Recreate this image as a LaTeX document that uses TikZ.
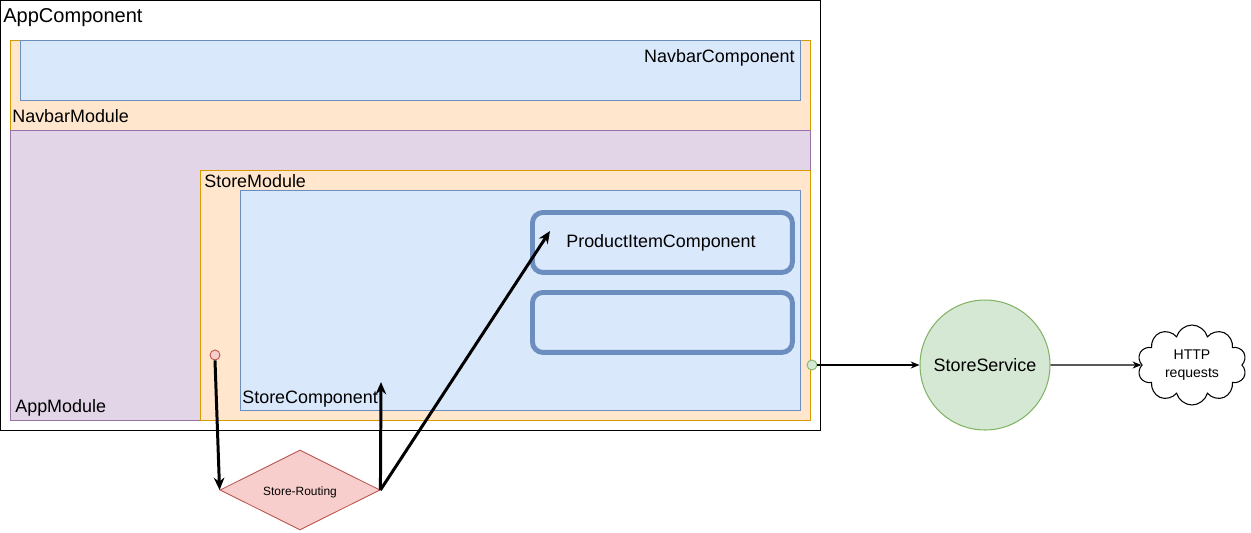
\documentclass[tikz,border=0pt]{standalone}
\usepackage{fontspec}
\setmainfont{Liberation Sans}
\usetikzlibrary{arrows.meta,shapes.geometric,shapes.symbols,positioning}

\definecolor{bluefill}{HTML}{DAE8FC}
\definecolor{bluedraw}{HTML}{6C8EBF}
\definecolor{orangefill}{HTML}{FFE6CC}
\definecolor{orangedraw}{HTML}{D79B00}
\definecolor{purplefill}{HTML}{E1D5E7}
\definecolor{purpledraw}{HTML}{9673A6}
\definecolor{greenfill}{HTML}{D5E8D4}
\definecolor{greendraw}{HTML}{82B366}
\definecolor{redfill}{HTML}{F8CECC}
\definecolor{reddraw}{HTML}{B85450}

\begin{document}
\begin{tikzpicture}[x=0.02cm, y=-0.02cm,
    box/.style={draw, anchor=north west, inner sep=0pt, line width=0.6pt},
    bluebox/.style={box, fill=bluefill, draw=bluedraw},
    orangebox/.style={box, fill=orangefill, draw=orangedraw},
    purplebox/.style={box, fill=purplefill, draw=purpledraw},
    itembox/.style={box, fill=bluefill, draw=bluedraw, line width=2.8pt, rounded corners=6pt},
    lbl/.style={inner sep=0pt, font=\fontsize{10.2}{12}\selectfont},
    port/.style={circle, draw, inner sep=0pt, minimum size=0.2cm, line width=0.5pt},
    route/.style={-{Stealth[length=7pt, width=6pt]}, line width=1.7pt},
    link/.style={-{Stealth[length=5pt, width=4pt]}, line width=0.6pt}]

    \useasboundingbox (0,0) rectangle (1251,532);

    % containers
    \node[box, fill=white, minimum width=16.4cm, minimum height=8.6cm] (app) at (0,0) {};
    \node[orangebox, minimum width=16cm, minimum height=1.8cm] (navmod) at (10,40) {};
    \node[bluebox, minimum width=15.6cm, minimum height=1.2cm] (navcomp) at (20,40) {};
    \node[purplebox, minimum width=16cm, minimum height=5.8cm] (appmod) at (10,130) {};
    \node[orangebox, minimum width=12.2cm, minimum height=5cm] (storemod) at (200,170) {};
    \node[bluebox, minimum width=11.2cm, minimum height=4.4cm] (storecomp) at (240,190) {};
    \node[itembox, minimum width=5.2cm, minimum height=1.2cm] (item) at (530,210) {};
    \node[itembox, minimum width=5.2cm, minimum height=1.2cm] (itemb) at (530,290) {};

    % labels
    \node[lbl, anchor=base west, font=\fontsize{11.4}{13}\selectfont] (applbl) at (3,22) {AppComponent};
    \node[lbl, anchor=base west] (navmodlbl) at (12,122) {NavbarModule};
    \node[lbl, anchor=base east] (navcomplbl) at (795,62) {NavbarComponent};
    \node[lbl, anchor=base west] (appmodlbl) at (15,412) {AppModule};
    \node[lbl, anchor=base west] (storemodlbl) at (204,187) {StoreModule};
    \node[lbl, anchor=base west] (storecomplbl) at (242,403) {StoreComponent};
    \node[lbl, anchor=base west] (itemlbl) at (566,247) {ProductItemComponent};

    % ports
    \node[port, fill=redfill, draw=reddraw] (routeport) at (215,355) {};
    \node[port, fill=greenfill, draw=greendraw] (serviceport) at (812,365) {};

    % outside
    \node[diamond, draw=reddraw, fill=redfill, line width=0.5pt, inner sep=0pt,
          minimum width=3.2cm, minimum height=1.6cm, aspect=2] (routing) at (300,490) {};
    \node[lbl, anchor=base, font=\fontsize{6.8}{8}\selectfont] (routinglbl) at (300,495) {Store-Routing};
    \node[circle, draw=greendraw, fill=greenfill, line width=0.6pt, inner sep=0pt,
          minimum size=2.6cm, font=\fontsize{10.2}{12}\selectfont] (service) at (985,365) {StoreService};
    \node[cloud, draw, line width=0.6pt, cloud puffs=10, cloud ignores aspect, inner sep=0pt,
          minimum width=2.18cm, minimum height=1.6cm, align=center,
          font=\fontsize{8}{10}\selectfont] (http) at (1192,365) {HTTP\\requests};

    \coordinate (storetip) at (381,382);
    \coordinate (itemtip) at (550,231);

    % connectors
    \draw[route] (routeport.south) -- (routing.west);
    \draw[route] (routing.east) -- (storetip);
    \draw[route] (routing.east) -- (itemtip);
    \draw[link] (serviceport) -- (service.west);
    \draw[link] (service.east) -- (http.west);
\end{tikzpicture}
\end{document}
